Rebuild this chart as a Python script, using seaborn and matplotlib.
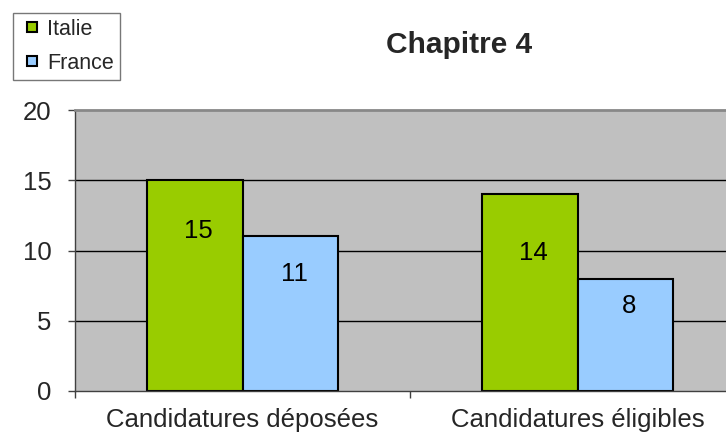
import matplotlib
matplotlib.use("Agg")
import matplotlib.pyplot as plt
import seaborn as sns
import pandas as pd
from matplotlib.lines import Line2D
from matplotlib.ticker import FixedLocator

categories = ["Candidatures déposées", "Candidatures éligibles"]
series = ["Italie", "France"]
italie = [15, 14]
france = [11, 8]
colors = ["#99CC00", "#99CCFF"]
yticks = [0, 5, 10, 15, 20]

df = pd.DataFrame({
    "cat": categories * 2,
    "pays": [series[0]] * 2 + [series[1]] * 2,
    "val": italie + france,
})

sns.set_theme(style="white")
plt.rcParams["font.family"] = ["Liberation Sans", "DejaVu Sans"]

W, H = 726, 437
fig = plt.figure(figsize=(W / 100, H / 100), dpi=100)
ax = fig.add_axes([75 / W, (H - 391) / H, 670 / W, 281 / H])
ax.set_facecolor("#C0C0C0")

sns.barplot(data=df, x="cat", y="val", hue="pays", palette=colors,
            width=0.573, edgecolor="black", linewidth=1.5, ax=ax,
            legend=False, saturation=1)

ax.set_xlim(-0.5, 1.5)
ax.set_ylim(0, 20)
ax.set_yticks(yticks)
ax.set_yticklabels([str(t) for t in yticks], fontsize=18.5)
for t in [5, 10, 15]:
    ax.axhline(t, color="black", linewidth=1, zorder=0.5)
ax.set_axisbelow(True)
ax.set_xlabel("")
ax.set_ylabel("")
ax.tick_params(axis="x", which="major", length=0, labelsize=18.5, pad=12)
ax.xaxis.set_minor_locator(FixedLocator([-0.5, 0.5, 1.5]))
ax.tick_params(axis="x", which="minor", length=5, width=1, color="#404040", direction="out", bottom=True)
ax.tick_params(axis="y", length=5, width=1, color="#404040", direction="out", left=True, pad=12)

for s in ["left", "bottom"]:
    ax.spines[s].set_color("#404040")
    ax.spines[s].set_linewidth(1)
ax.spines["top"].set_color("#888888")
ax.spines["top"].set_linewidth(2)
ax.spines["right"].set_visible(False)

# data labels (vertical placement as fraction of bar height)
label_frac = [[0.76, 0.70], [0.76, 0.76]]
for i, cont in enumerate(ax.containers):
    for j, (bar, v) in enumerate(zip(cont, [italie, france][i])):
        ax.text(bar.get_x() + bar.get_width() / 2 + 0.012, v * label_frac[i][j], str(v),
                ha="center", va="center", fontsize=18.5, color="black")

fig.text(459 / W, 1 - 45 / H, "Chapitre 4", ha="center", va="center",
         fontsize=21.5, fontweight="bold")

handles = [Line2D([], [], linestyle="none", marker="s", markersize=6.5,
                  markerfacecolor=c, markeredgecolor="black", markeredgewidth=1.5,
                  label=s) for c, s in zip(colors, series)]
leg = fig.legend(handles=handles, loc="upper left",
                 bbox_to_anchor=(13 / W, 1 - 13 / H), frameon=True,
                 fontsize=15.5, handlelength=1.2, handleheight=0.7,
                 handletextpad=0.1, borderpad=0.28, labelspacing=0.6,
                 fancybox=False, borderaxespad=0)
leg.get_frame().set_edgecolor("#555555")
leg.get_frame().set_linewidth(1)

fig.savefig("out.png", dpi=100)
